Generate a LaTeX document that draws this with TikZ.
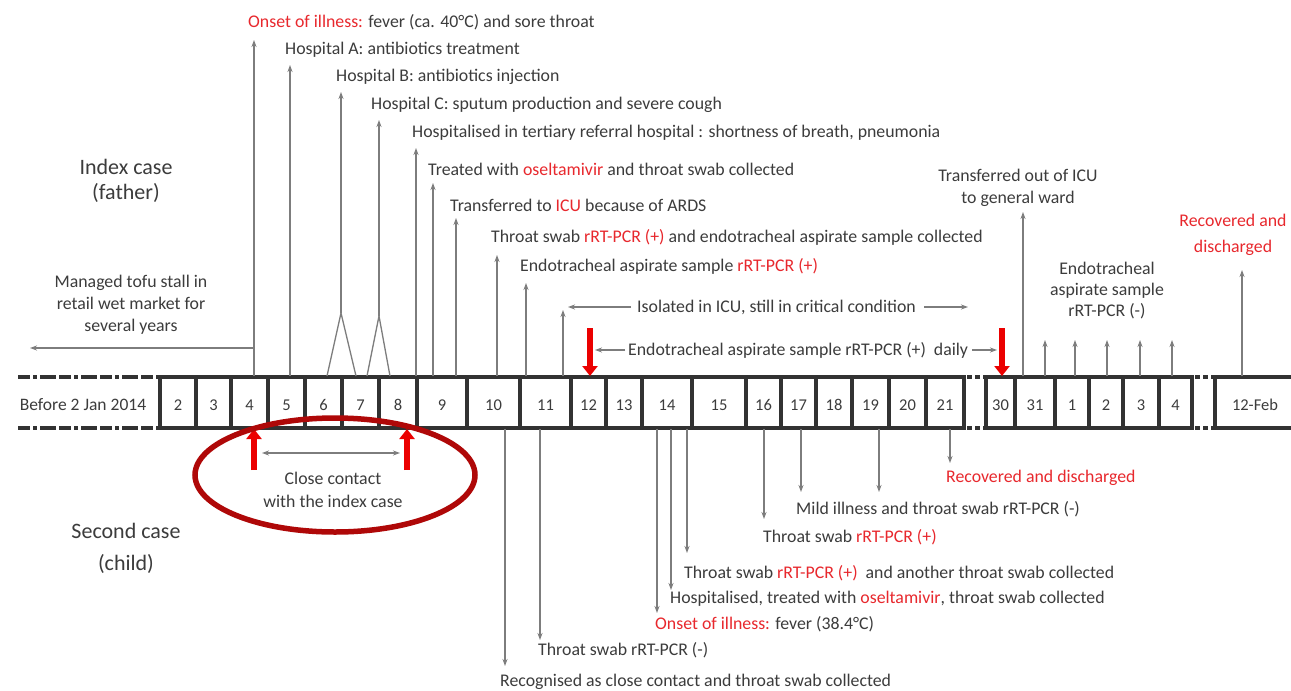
\documentclass[tikz,border=0pt]{standalone}
\usepackage{fontspec}
\setmainfont{Carlito}
\usetikzlibrary{arrows.meta}
\definecolor{txt}{RGB}{60,60,60}
\definecolor{ared}{RGB}{232,40,45}
\definecolor{rarr}{RGB}{235,0,0}
\definecolor{arr}{RGB}{125,125,125}
\definecolor{barc}{RGB}{50,50,50}
\definecolor{ellc}{RGB}{175,8,8}
\newcommand{\rd}[1]{\textcolor{ared}{#1}}
\begin{document}
\begin{tikzpicture}[x=1pt,y=-1pt,
  lbl/.style={anchor=west, inner sep=0pt, text=txt, font=\fontsize{17.8}{22}\selectfont},
  clbl/.style={align=center, inner sep=0pt, text=txt, font=\fontsize{17.8}{22}\selectfont},
  big/.style={align=center, inner sep=0pt, text=txt, font=\fontsize{22}{25}\selectfont},
  num/.style={inner sep=0pt, text=txt, font=\fontsize{16.5}{18}\selectfont},
  garrow/.style={draw=arr, line width=1.3pt, -{Stealth[length=7pt,width=5pt]}},
  gline/.style={draw=arr, line width=1.3pt},
  rarrow/.style={draw=rarr, line width=5.5pt, -{Triangle[length=10pt,width=15pt]}},
  barline/.style={draw=barc, line width=3.5pt, line cap=rect},
  gapline/.style={draw=barc, line width=3.5pt, dash pattern=on 5pt off 3pt},
  leftdash/.style={draw=barc, line width=3.5pt, dash pattern=on 12pt off 3pt on 4pt off 3pt on 16pt off 3pt}
]
\useasboundingbox (0,0) rectangle (1291,691);
\fill[white] (0,0) rectangle (1291,691);

% ---------- timeline bar ----------
\draw[leftdash] (18,377) -- (158,377);
\draw[leftdash] (18,428) -- (158,428);
\node[num, font=\fontsize{17.5}{18}\selectfont] (before) at (83,405) {Before 2 Jan 2014};

\draw[barline] (160,377) -- (964,377);
\draw[barline] (160,428) -- (964,428);
\foreach \x in {160,196,231,268,305,342,379,417,467,520,571,606,642,692,746,781,816,852,889,926,964}
  \draw[barline] (\x,377) -- (\x,428);
\foreach \a/\b/\t [count=\i] in {160/196/2,196/231/3,231/268/4,268/305/5,305/342/6,342/379/7,379/417/8,417/467/9,467/520/10,520/571/11,571/606/12,606/642/13,642/692/14,692/746/15,746/781/16,781/816/17,816/852/18,852/889/19,889/926/20,926/964/21}
  \node[num] (j\i) at ({(\a+\b)/2},405) {\t};

\draw[gapline] (967,377) -- (984,377);
\draw[gapline] (967,428) -- (984,428);

\draw[barline] (986,377) -- (1192,377);
\draw[barline] (986,428) -- (1192,428);
\foreach \x in {986,1015,1055,1089,1123,1159,1192}
  \draw[barline] (\x,377) -- (\x,428);
\foreach \a/\b/\t [count=\i] in {986/1015/30,1015/1055/31,1055/1089/1,1089/1123/2,1123/1159/3,1159/1192/4}
  \node[num] (k\i) at ({(\a+\b)/2},405) {\t};

\draw[gapline] (1195,377) -- (1213,377);
\draw[gapline] (1195,428) -- (1213,428);
\draw[barline] (1215,377) -- (1293,377);
\draw[barline] (1215,428) -- (1293,428);
\draw[barline] (1215,377) -- (1215,428);
\node[num] (feb) at (1255,405) {12-Feb};

% ---------- case labels ----------
\node[big] (idx) at (126,181) {Index case\\(father)};
\node[big, font=\fontsize{22}{32}\selectfont] (sec) at (126,548) {Second case\\(child)};

% ---------- index case annotations ----------
\node[lbl] (t1) at (248,22) {\rd{Onset of illness:} fever (ca. 40°C) and sore throat};
\node[lbl] (t2) at (285,50) {Hospital A: antibiotics treatment};
\node[lbl] (t3) at (336,77) {Hospital B: antibiotics injection};
\node[lbl] (t4) at (371,105) {Hospital C: sputum production and severe cough};
\node[lbl] (t5) at (412,133) {Hospitalised in tertiary referral hospital : shortness of breath, pneumonia};
\node[lbl] (t6) at (428,169) {Treated with \rd{oseltamivir} and throat swab collected};
\node[lbl] (t7) at (450,205) {Transferred to \rd{ICU} because of ARDS};
\node[lbl] (t8) at (491,237) {Throat swab \rd{rRT-PCR (+)} and endotracheal aspirate sample collected};
\node[lbl] (t9) at (520,266) {Endotracheal aspirate sample \rd{rRT-PCR (+)}};
\node[lbl] (t10) at (637,307) {Isolated in ICU, still in critical condition};
\node[lbl] (t11) at (628,350) {Endotracheal aspirate sample rRT-PCR (+)~ daily};
\node[clbl] (t12) at (1018,188) {Transferred out of ICU\\to general ward};
\node[clbl, font=\fontsize{17.8}{21}\selectfont] (t13) at (1107,291) {Endotracheal\\aspirate sample\\rRT-PCR (-)};
\node[clbl, text=ared, font=\fontsize{17.8}{26}\selectfont] (t14) at (1233,235) {Recovered and\\discharged};
\node[clbl] (t15) at (131,305) {Managed tofu stall in\\retail wet market for\\several years};

% arrow base / tip coordinates
\foreach \n/\x/\y in {1/254/40, 2/290/65, 5/416/148, 6/433/183, 7/456/218, 8/497/255, 9/526/283, 10/563/310, 12/1023/212, 14/1242/270}{
  \coordinate (u\n) at (\x,376);
  \coordinate (v\n) at (\x,\y);
  \draw[garrow] (u\n) -- (v\n);
}
% Hospital B and C forks
\coordinate (bL) at (327,376); \coordinate (bA) at (341,313); \coordinate (bR) at (356,376); \coordinate (bT) at (341,92);
\coordinate (cL) at (367,376); \coordinate (cA) at (379,316); \coordinate (cR) at (390,376); \coordinate (cT) at (379,120);
\draw[gline, line join=miter] (bL) -- (bA) -- (bR);
\draw[garrow] (bA) -- (bT);
\draw[gline, line join=miter] (cL) -- (cA) -- (cR);
\draw[garrow] (cA) -- (cT);

% five small arrows
\foreach \x [count=\i] in {1045,1075,1107,1140,1172}{
  \coordinate (s\i) at (\x,376);
  \coordinate (r\i) at (\x,340);
  \draw[garrow] (s\i) -- (r\i);
}

% tofu stall arrow
\coordinate (tofuS) at (254,348);
\coordinate (tofuE) at (30,348);
\draw[garrow] (tofuS) -- (tofuE);

% isolated horizontal arrows
\coordinate (isoL) at (568,307);
\coordinate (isoR) at (968,307);
\draw[garrow] ([xshift=-6pt]t10.west) -- (isoL);
\draw[garrow] ([xshift=8pt]t10.east) -- (isoR);

% red daily arrows
\coordinate (rA1) at (590,328); \coordinate (rB1) at (590,376);
\coordinate (rA2) at (1002,328); \coordinate (rB2) at (1002,376);
\draw[rarrow] (rA1) -- (rB1);
\draw[rarrow] (rA2) -- (rB2);
\draw[garrow] ([xshift=-3pt]t11.west) -- ([xshift=5pt]rA1 |- t11.west);
\draw[garrow] ([xshift=4pt]t11.east) -- ([xshift=-5pt]rA2 |- t11.east);

% ---------- second case annotations ----------
\node[lbl] (b1) at (500,682) {Recognised as close contact and throat swab collected};
\node[lbl] (b2) at (538,650) {Throat swab rRT-PCR (-)};
\node[lbl] (b3) at (655,624) {\rd{Onset of illness:} fever (38.4°C)};
\node[lbl] (b4) at (670,599) {Hospitalised, treated with \rd{oseltamivir}, throat swab collected};
\node[lbl] (b5) at (684,573) {Throat swab \rd{rRT-PCR (+)}~ and another throat swab collected};
\node[lbl] (b6) at (763,537) {Throat swab \rd{rRT-PCR (+)}};
\node[lbl] (b7) at (796,509) {Mild illness and throat swab rRT-PCR (-)};
\node[lbl, text=ared] (b8) at (946,478) {Recovered and discharged};

\foreach \n/\x/\y in {1/505/666, 2/540/640, 3/657/613, 4/671/590, 5/687/553, 6/764/519, 7/801/492, 7b/879/492, 8/950/463}{
  \coordinate (w\n) at (\x,429);
  \coordinate (z\n) at (\x,\y);
  \draw[garrow] (w\n) -- (z\n);
}

% ---------- close contact ----------
\node[clbl, font=\fontsize{17.8}{23}\selectfont] (cc) at (333,490) {Close contact\\with the index case};
\coordinate (ccL0) at (254,470); \coordinate (ccL1) at (254,429);
\coordinate (ccR0) at (407,470); \coordinate (ccR1) at (407,429);
\draw[rarrow] (ccL0) -- (ccL1);
\draw[rarrow] (ccR0) -- (ccR1);
\coordinate (dl) at (262,453); \coordinate (dr) at (400,453);
\draw[draw=arr, line width=1.3pt, {Stealth[length=7pt,width=5pt]}-{Stealth[length=7pt,width=5pt]}] (dl) -- (dr);

\draw[draw=ellc, line width=5.5pt] (335,475) ellipse [x radius=140pt, y radius=57pt];
\end{tikzpicture}
\end{document}
